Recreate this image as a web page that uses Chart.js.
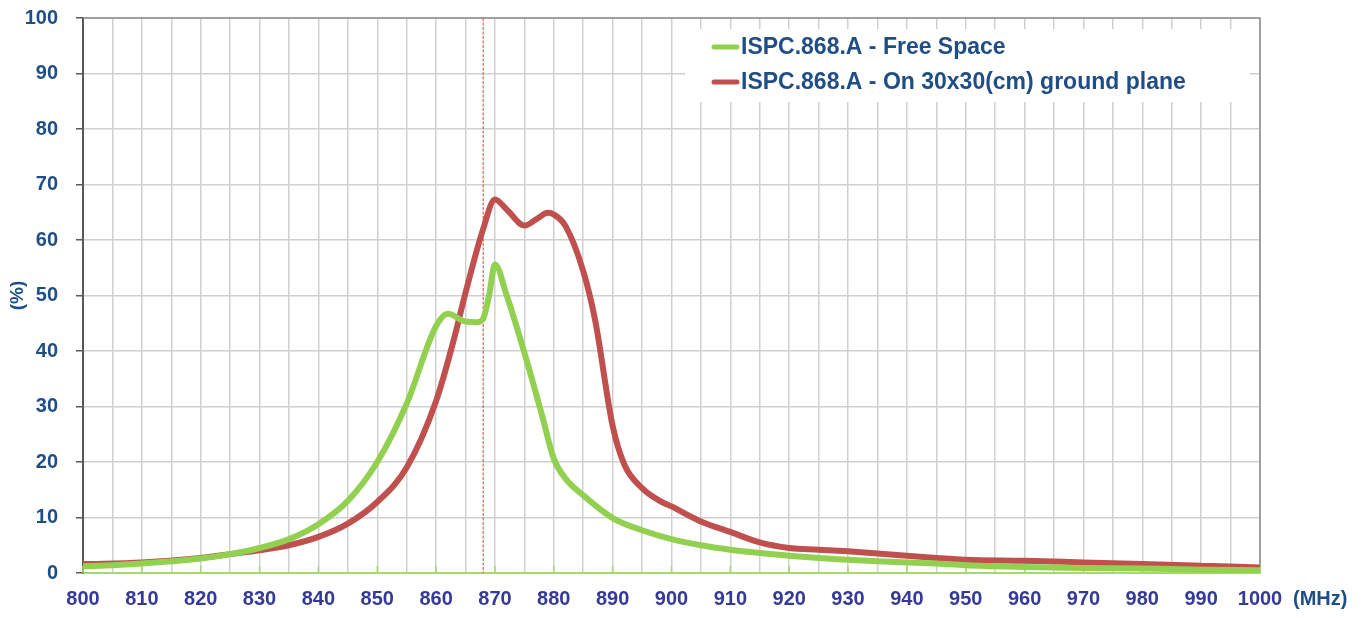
<!DOCTYPE html>
<html>
<head>
<meta charset="utf-8">
<script src="https://cdn.jsdelivr.net/npm/chart.js@4"></script>
<style>
  html, body { margin: 0; padding: 0; background: #fff; }
  #wrap { width: 1367px; height: 618px; position: relative; }
</style>
</head>
<body>
<div id="wrap"><canvas id="myChart"></canvas></div>
<script>
// Free space curve (MHz, %)
var freeFreq = [800, 805, 810, 815, 820, 825, 830, 835, 840, 845, 850, 855, 860, 862, 865, 867, 868, 869, 870, 872, 875, 878, 880, 882, 885, 890, 895, 900, 905, 910, 915, 920, 925, 930, 935, 940, 945, 950, 960, 970, 980, 990, 1000];
var freeSpace = [1.2, 1.4, 1.7, 2.1, 2.6, 3.4, 4.5, 6.1, 8.8, 13.0, 20.0, 30.5, 44.5, 46.7, 45.3, 45.2, 45.8, 50, 55.6, 50, 39.7, 28.4, 20.6, 17, 14, 9.9, 7.7, 6.1, 5.0, 4.2, 3.6, 3.1, 2.7, 2.4, 2.1, 1.9, 1.7, 1.4, 1.1, 0.9, 0.8, 0.6, 0.5];

// Ground plane curve (MHz, %)
var groundFreq = [800, 810, 820, 825, 830, 835, 840, 845, 850, 855, 860, 863, 865, 868, 870, 872, 875, 877, 879, 880, 882, 885, 887, 890, 892, 895, 898, 900, 905, 910, 915, 920, 925, 930, 935, 940, 945, 950, 960, 970, 980, 990, 1000];
var groundPlane = [1.6, 1.9, 2.7, 3.4, 4.1, 5.0, 6.5, 8.9, 12.8, 19, 31, 42, 50.5, 62, 67.3, 65.5, 62.6, 63.7, 64.9, 64.6, 62.5, 54.4, 45.7, 26.5, 19.5, 15.3, 13.0, 12.0, 9.3, 7.4, 5.5, 4.5, 4.2, 3.9, 3.5, 3.1, 2.7, 2.4, 2.2, 1.9, 1.6, 1.3, 1.0];

var seriesNames = ['ISPC.868.A - Free Space', 'ISPC.868.A - On 30x30(cm) ground plane'];
var seriesColors = ['#92d050', '#c0504d'];
var markerFreq = 868;
var xMin = 800, xMax = 1000, xStep = 5, xLabelStep = 10;
var yMin = 0, yMax = 100, yStep = 10;

var labelBlue = '#1f4e87';
var tickIndigo = '#34399a';
var fontFamily = '"Liberation Sans", Arial, sans-serif';

function toPoints(xs, ys) {
    return xs.map(function (x, i) { return { x: x, y: ys[i] }; });
}

var extras = {
    id: 'extras',
    beforeDatasetsDraw: function (chart) {
        var ctx = chart.ctx, a = chart.chartArea;
        var xs = chart.scales.x;
        ctx.save();
        // frame top/right
        ctx.strokeStyle = '#8c8c8c';
        ctx.lineWidth = 1.5;
        ctx.beginPath();
        ctx.moveTo(a.left, a.top);
        ctx.lineTo(a.right, a.top);
        ctx.lineTo(a.right, a.bottom);
        ctx.stroke();
        // green inward ticks on the x axis
        ctx.strokeStyle = '#a6d86e';
        ctx.lineWidth = 1.5;
        for (var f = xMin; f <= xMax; f += xLabelStep) {
            var px = xs.getPixelForValue(f);
            ctx.beginPath();
            ctx.moveTo(px, a.bottom);
            ctx.lineTo(px, a.bottom - 7);
            ctx.stroke();
        }
        // dashed marker line
        var mx = xs.getPixelForValue(markerFreq);
        ctx.strokeStyle = '#ff3030';
        ctx.lineWidth = 1;
        ctx.setLineDash([3, 1.5]);
        ctx.beginPath();
        ctx.moveTo(mx, a.top);
        ctx.lineTo(mx, a.bottom);
        ctx.stroke();
        ctx.restore();
    },
    afterDatasetsDraw: function (chart) {
        var ctx = chart.ctx;
        ctx.save();
        // legend box
        ctx.fillStyle = '#ffffff';
        ctx.fillRect(685, 29, 565, 73);
        ctx.font = 'bold 23px ' + fontFamily;
        ctx.textBaseline = 'middle';
        ctx.lineCap = 'round';
        var rows = [47, 82];
        for (var i = 0; i < seriesNames.length; i++) {
            ctx.strokeStyle = seriesColors[i];
            ctx.lineWidth = 5;
            ctx.beginPath();
            ctx.moveTo(714, rows[i]);
            ctx.lineTo(737, rows[i]);
            ctx.stroke();
            ctx.fillStyle = labelBlue;
            ctx.fillText(seriesNames[i], 741, rows[i] + 1);
        }
        // x unit
        ctx.font = 'bold 20px ' + fontFamily;
        ctx.fillStyle = labelBlue;
        ctx.textAlign = 'left';
        ctx.fillText('(MHz)', 1293, 599);
        ctx.restore();
    }
};

var chart = {
    setup: function () {
        var ctx = document.getElementById('myChart');
        new Chart(ctx, {
            type: 'line',
            data: {
                datasets: [
                    {
                        label: seriesNames[0],
                        data: toPoints(freeFreq, freeSpace),
                        borderColor: seriesColors[0],
                        borderWidth: 6,
                        pointRadius: 0,
                        cubicInterpolationMode: 'monotone',
                        fill: false
                    },
                    {
                        label: seriesNames[1],
                        data: toPoints(groundFreq, groundPlane),
                        borderColor: seriesColors[1],
                        borderWidth: 6,
                        pointRadius: 0,
                        cubicInterpolationMode: 'monotone',
                        fill: false
                    }
                ]
            },
            options: {
                responsive: true,
                maintainAspectRatio: false,
                animation: false,
                layout: { padding: { left: 0, top: 18, right: 107, bottom: 0 } },
                plugins: {
                    legend: { display: false },
                    tooltip: { enabled: false }
                },
                scales: {
                    x: {
                        type: 'linear',
                        min: xMin,
                        max: xMax,
                        afterFit: function (s) { s.height = 45; },
                        border: { color: '#a6d86e', width: 2 },
                        grid: { color: '#d0d0d0', lineWidth: 1.5, drawTicks: false },
                        ticks: {
                            stepSize: xStep,
                            autoSkip: false,
                            maxRotation: 0,
                            padding: 14,
                            color: tickIndigo,
                            font: { family: fontFamily, size: 20, weight: 'bold' },
                            callback: function (v) { return v % xLabelStep === 0 ? v : ''; }
                        }
                    },
                    y: {
                        min: yMin,
                        max: yMax,
                        afterFit: function (s) { s.width = 83; s.paddingTop = 0; s.paddingBottom = 0; },
                        border: { color: '#595959', width: 2 },
                        grid: { color: '#d0d0d0', lineWidth: 1.5, tickColor: '#595959', tickLength: 7 },
                        ticks: {
                            stepSize: yStep,
                            padding: 18,
                            color: labelBlue,
                            font: { family: fontFamily, size: 20, weight: 'bold' }
                        },
                        title: {
                            display: true,
                            text: '(%)',
                            color: labelBlue,
                            padding: { top: 6, bottom: 0 },
                            font: { family: fontFamily, size: 19, weight: 'bold' }
                        }
                    }
                }
            },
            plugins: [extras]
        });
    }
};

chart.setup();
</script>
</body>
</html>
